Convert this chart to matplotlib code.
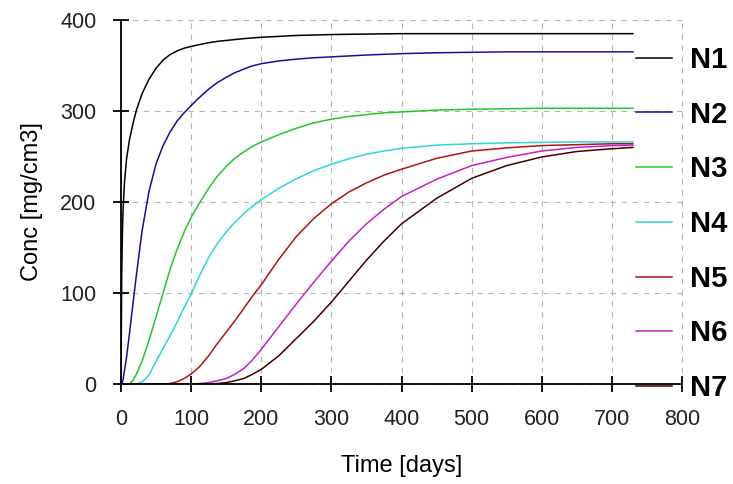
import matplotlib
matplotlib.use("Agg")
import matplotlib.pyplot as plt

plt.rcParams['font.family'] = ['Liberation Sans', 'DejaVu Sans']

# time grid [days]
t = [0, 1, 2, 3, 5, 8, 12, 17, 22, 30, 40, 50, 60, 70, 80, 90, 100, 112, 125, 137,
     150, 162, 175, 187, 200, 225, 250, 275, 300, 325, 350, 375, 400, 450, 500, 550,
     600, 650, 700, 730]

n1 = [0, 120, 165, 192, 222, 248, 268, 286, 301, 319, 335, 347, 356, 362, 366, 369, 371, 373, 375, 376.5,
      377.5, 378.5, 379.5, 380.3, 381, 382, 383, 383.5, 384, 384.3, 384.5, 384.8, 385, 385, 385, 385,
      385, 385, 385, 385]
n2 = [0, 0, 2, 5, 15, 30, 55, 88, 120, 168, 212, 242, 262, 277, 289, 298, 306, 315, 324, 331,
      337, 342, 346, 349.5, 352, 355, 357, 358.5, 359.5, 360.5, 361.5, 362.3, 363, 364, 364.5, 365,
      365, 365, 365, 365]
n3 = [0, 0, 0, 0, 0, 0, 0, 4, 11, 25, 48, 74, 100, 126, 148, 167, 183, 199, 215, 228,
      239, 248, 255, 261, 266, 274, 281, 287, 291, 294, 296, 298, 299, 301, 302, 302.5,
      303, 303, 303, 303]
n4 = [0, 0, 0, 0, 0, 0, 0, 0, 0, 2, 10, 25, 39, 53, 68, 84, 99, 119, 139, 154,
      167, 177.5, 187, 195, 202.5, 215, 225.5, 234.5, 241.5, 247.5, 252.5, 256, 259, 262.5, 264, 265,
      265.5, 266, 266, 266]
n5 = [0, 0, 0, 0, 0, 0, 0, 0, 0, 0, 0, 0, 0, 0.5, 2.5, 6, 11, 19, 31, 44,
      57, 69, 83, 96, 109, 137, 162, 182, 198, 211, 221, 229.5, 236, 248, 256, 259.5,
      262, 263, 264, 264]
n6 = [0, 0, 0, 0, 0, 0, 0, 0, 0, 0, 0, 0, 0, 0, 0, 0, 0, 0.5, 1.5, 3.5,
      6, 10.5, 17, 26, 38, 63, 88, 112, 135, 157, 176, 192, 206, 225, 240, 249,
      256, 260, 262, 262.5]
n7 = [0, 0, 0, 0, 0, 0, 0, 0, 0, 0, 0, 0, 0, 0, 0, 0, 0, 0, 0, 0.5,
      1.5, 3.5, 6, 10.5, 16, 31, 50, 69, 90, 113, 136, 157, 176, 204, 226, 240,
      249.5, 255.5, 258.5, 260]

series = [n1, n2, n3, n4, n5, n6, n7]
labels = ["N1", "N2", "N3", "N4", "N5", "N6", "N7"]
colors = ["#000000", "#1010a0", "#22c822", "#28d8d8", "#b01414", "#c81ec8", "#420000"]

xticks = [0, 100, 200, 300, 400, 500, 600, 700, 800]
yticks = [0, 100, 200, 300, 400]

W, H = 733, 484
fig = plt.figure(figsize=(W / 100, H / 100), dpi=100)
ax = fig.add_axes([121 / W, 1 - 384 / H, (682 - 121) / W, (384 - 20) / H])

handles = []
for s, lab, c in zip(series, labels, colors):
    h, = ax.plot(t, s, color=c, lw=1.1, label=lab, zorder=3)
    handles.append(h)

ax.set_xlim(0, 800)
ax.set_ylim(0, 400)
ax.set_xticks(xticks)
ax.set_yticks(yticks)

for side in ["top", "right"]:
    ax.spines[side].set_visible(False)
for side in ["left", "bottom"]:
    ax.spines[side].set_linewidth(1.3)
    ax.spines[side].set_zorder(5)

ax.tick_params(axis="both", direction="inout", length=11.5, width=1.3,
               labelsize=15.5, labelcolor="#222222", pad=12)
ax.grid(True, color="#b4b4b4", linestyle=(0, (5, 5)), linewidth=0.8, zorder=0)
for gl in ax.get_xgridlines() + ax.get_ygridlines():
    gl.set_clip_on(False)

ax.set_xlabel("Time [days]", fontsize=17, labelpad=18)
ax.set_ylabel("Conc [mg/cm3]", fontsize=17, labelpad=12)

leg = ax.legend(handles=handles, loc="upper left",
                bbox_to_anchor=(636 / W, 1 - 46 / H), bbox_transform=fig.transFigure,
                frameon=False, borderpad=0, borderaxespad=0,
                handlelength=1.25, handletextpad=0.6, labelspacing=0.915,
                prop={"weight": "bold", "size": 21})
leg.set_zorder(2)

fig.savefig("out.png", dpi=100, facecolor="white")
